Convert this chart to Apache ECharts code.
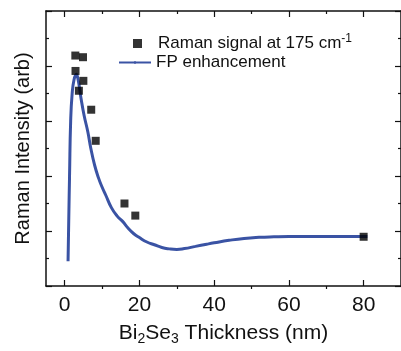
<!DOCTYPE html>
<html><head><meta charset="utf-8">
<script src="https://cdn.jsdelivr.net/npm/echarts@6/dist/echarts.min.js"></script>
<style>html,body{margin:0;padding:0;background:#fff}#c{width:401px;height:351px}</style>
</head><body><div id="c"></div>
<script>
// Raman signal measured points (thickness nm, intensity arb)
const ramanX = [2.85, 4.9, 2.9, 5.0, 3.8, 7.1, 8.3, 16.0, 18.9, 80.0];
const ramanY = [8.38, 8.32, 7.82, 7.46, 7.1, 6.41, 5.28, 3.0, 2.56, 1.79];
// FP enhancement curve
const fpX = [0.9, 1.1, 1.3, 1.6, 2.0, 2.5, 3.1, 3.6, 4.4, 5.2, 6.2, 7.0, 8.0, 9.0, 10.0, 11.0, 12.5, 14.0, 15.5, 17.0, 18.5, 20.0, 22.0, 24.0, 26.0, 28.0, 30.0, 32.0, 35.0, 38.0, 40.0, 44.0, 48.0, 52.0, 56.0, 60.0, 70.0, 81.0];
const fpY = [0.9, 2.5, 4.0, 6.0, 7.0, 7.5, 7.7, 7.5, 6.8, 6.2, 5.6, 5.0, 4.4, 3.95, 3.6, 3.3, 2.85, 2.55, 2.35, 2.1, 1.9, 1.76, 1.6, 1.5, 1.4, 1.35, 1.33, 1.36, 1.44, 1.52, 1.57, 1.66, 1.73, 1.77, 1.79, 1.8, 1.8, 1.8];
const xMajor = [0, 20, 40, 60, 80];
const xMinor = [10, 30, 50, 70];
const seriesNames = ['Raman signal at 175 cm', 'FP enhancement'];

const FONT = '"Liberation Sans", Arial, sans-serif';
const chart = echarts.init(document.getElementById('c'), null, {renderer: 'canvas'});
const lineStyle = {color: '#111', width: 1.5};
const gridRect = {left: 46, top: 11, right: -1.5, bottom: 62, containLabel: false};
function xAx(grid, pos, ticks, len, showLine, showLabel, extra) {
  return Object.assign({
    type: 'value', gridIndex: grid, position: pos, min: -5, max: 90,
    axisLine: {show: showLine, onZero: false, lineStyle: lineStyle},
    axisTick: {show: true, inside: true, length: len, customValues: ticks, lineStyle: {color: '#111', width: 1.2}},
    axisLabel: {show: showLabel, customValues: ticks, color: '#111', fontSize: 21, fontFamily: FONT, margin: 9},
    splitLine: {show: false}
  }, extra || {});
}
function yAx(grid, pos, show) {
  return {
    type: 'value', gridIndex: grid, position: pos, min: 0, max: 10, interval: 2, show: show,
    axisLine: {show: true, onZero: false, lineStyle: lineStyle},
    axisTick: {show: true, inside: true, length: 6, lineStyle: {color: '#111', width: 1.2}},
    minorTick: {show: true, splitNumber: 2, length: 3, lineStyle: {color: '#111', width: 1.2}},
    axisLabel: {show: false}, splitLine: {show: false}
  };
}
const yLeft = yAx(0, 'left', true);
yLeft.name = 'Raman Intensity (arb)';
yLeft.nameLocation = 'middle';
yLeft.nameGap = 13;
yLeft.nameTextStyle = {fontSize: 20, color: '#111', fontFamily: FONT};

chart.setOption({
  animation: false,
  grid: [Object.assign({}, gridRect), Object.assign({}, gridRect)],
  legend: [
    {data: [seriesNames[0]], left: 133, top: 33, padding: 0, itemWidth: 9, itemHeight: 9, icon: 'rect',
     formatter: n => n + '{sup|-1}',
     textStyle: {fontSize: 17, color: '#111', fontFamily: FONT, padding: [0, 0, 0, 11],
       rich: {sup: {fontSize: 12, fontFamily: FONT, color: '#111', verticalAlign: 'bottom', padding: [0, 0, 9, 0]}}}},
    {data: [seriesNames[1]], left: 118, top: 54, padding: 0, itemWidth: 32, itemHeight: 3,
     textStyle: {fontSize: 17, color: '#111', fontFamily: FONT}}
  ],
  xAxis: [
    xAx(0, 'bottom', xMajor, 6, true, true, {
      name: 'Bi{sub|2}Se{sub|3} Thickness (nm)', nameLocation: 'middle', nameGap: 34,
      nameTextStyle: {fontSize: 21, color: '#111', fontFamily: FONT,
        rich: {sub: {fontSize: 14, fontFamily: FONT, color: '#111', verticalAlign: 'top', padding: [12, 0, 0, 0]}}}
    }),
    xAx(0, 'top', xMajor, 6, true, false),
    xAx(1, 'bottom', xMinor, 3, false, false),
    xAx(1, 'top', xMinor, 3, false, false)
  ],
  yAxis: [yLeft, yAx(0, 'right', true), yAx(1, 'left', false)],
  series: [
    {name: seriesNames[0], type: 'scatter', symbol: 'rect', symbolSize: 8,
     itemStyle: {color: '#000'}, data: ramanX.map((x, i) => [x, ramanY[i]]), z: 3},
    {name: seriesNames[1], type: 'line', smooth: 0.5, symbol: 'none', showSymbol: false,
     lineStyle: {color: '#3a53a4', width: 3}, itemStyle: {color: '#3a53a4'},
     data: fpX.map((x, i) => [x, fpY[i]]), z: 2}
  ]
});
</script></body></html>
